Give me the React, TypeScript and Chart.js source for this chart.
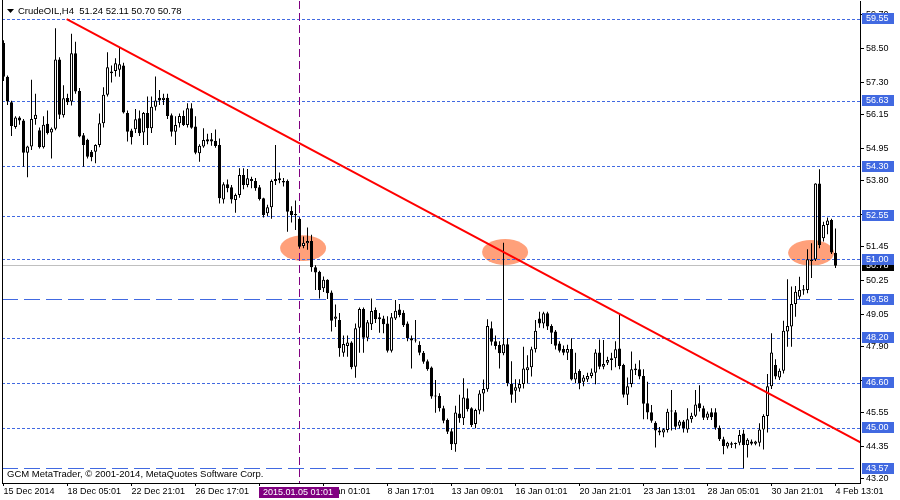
import React, { useEffect, useRef } from "react";
import { Chart, registerables } from "chart.js";

Chart.register(...registerables);

// ---------- data ----------
const opens = [
  58.70,57.50,56.60,55.72,56.05,55.95,54.80,55.02,56.00,55.60,
  55.00,55.83,55.52,55.65,58.12,56.13,56.75,56.62,58.34,57.00,
  55.42,55.26,54.84,54.84,55.08,55.85,56.86,57.63,57.71,57.75,
  57.90,56.21,55.59,55.64,56.03,55.52,56.21,55.67,56.44,56.76,
  56.68,56.76,56.13,55.55,55.85,56.11,55.79,56.38,55.73,54.78,
  55.02,55.28,55.28,55.23,55.08,53.14,53.68,53.57,53.12,53.30,
  54.01,53.65,53.87,53.80,53.57,53.18,52.65,52.86,53.80,53.82,
  53.80,53.80,52.73,52.62,52.45,51.48,51.58,51.66,50.73,50.57,
  49.98,50.28,49.83,48.90,48.85,47.69,47.93,48.05,47.19,48.58,
  49.24,48.22,48.70,49.21,48.88,48.91,48.73,47.76,48.91,49.23,
  49.11,48.73,48.20,48.15,47.96,47.69,47.39,47.16,46.15,46.15,
  45.71,45.30,44.90,44.43,45.53,45.36,46.07,45.71,45.15,45.63,
  46.24,46.39,48.56,48.10,47.96,47.67,47.99,46.58,46.34,46.42,
  46.58,47.07,47.17,47.81,48.91,48.73,49.09,48.64,48.44,48.02,
  47.82,47.69,47.82,46.74,47.04,46.66,46.74,46.86,46.98,47.70,
  47.19,47.33,47.43,47.49,47.84,47.25,46.19,46.58,47.13,47.10,
  46.86,45.89,45.57,45.20,44.92,44.85,44.94,45.63,45.57,45.09,
  45.24,44.96,45.32,45.45,45.89,45.71,45.38,45.57,45.57,45.02,
  44.61,44.35,44.47,44.45,44.49,44.82,44.41,44.53,44.45,44.49,
  44.96,45.44,46.50,47.25,46.81,47.05,48.44,48.62,49.42,49.68,
  49.95,49.92,50.95,51.00,53.71,51.76,52.23,52.41,51.24,
];
const highs = [
  58.80,57.55,56.65,56.10,56.10,56.00,55.05,57.40,56.90,55.70,
  56.10,56.30,55.70,59.23,58.20,57.20,56.90,59.03,58.75,57.10,
  55.50,55.30,54.90,55.10,56.20,57.13,58.37,57.90,58.16,58.55,
  58.00,56.30,55.65,56.36,56.30,56.25,56.80,56.80,57.51,57.03,
  56.90,56.90,56.20,56.10,56.20,56.30,56.56,56.56,56.10,55.10,
  55.67,55.48,55.50,55.63,55.31,53.75,53.85,53.65,53.35,54.25,
  54.25,54.22,53.95,53.90,53.65,53.20,52.95,53.85,55.08,54.10,
  53.90,53.85,52.90,53.10,52.50,51.82,52.14,51.88,50.80,50.60,
  50.40,50.30,49.90,49.40,49.10,48.30,48.30,48.10,48.73,49.30,
  49.30,48.85,49.62,49.30,49.10,49.00,48.99,49.10,49.56,49.42,
  49.20,48.80,48.30,48.85,48.10,47.75,47.45,47.20,46.72,46.25,
  45.80,45.35,45.00,45.80,46.19,46.78,46.42,45.75,45.70,46.35,
  46.74,48.88,48.80,48.30,48.10,51.60,48.20,47.39,46.75,46.75,
  47.90,47.60,47.90,48.85,49.15,49.15,49.15,48.70,48.50,48.10,
  47.95,47.97,48.20,47.69,47.10,46.90,46.98,47.13,47.81,48.16,
  48.14,47.55,47.69,48.10,49.06,47.30,46.81,47.73,47.30,47.42,
  47.10,46.66,45.83,45.25,45.05,45.00,45.70,46.36,45.65,45.30,
  45.30,45.71,45.55,46.36,46.53,45.80,45.60,45.71,45.71,45.10,
  44.70,44.52,44.52,44.50,44.94,44.95,44.65,44.60,44.56,45.18,
  45.50,46.93,48.38,47.46,47.13,48.83,50.30,50.04,50.06,50.39,
  50.10,51.37,51.58,53.72,54.21,52.35,52.50,52.45,52.11,
];
const lows = [
  57.35,56.50,55.40,55.65,55.80,54.30,53.93,54.90,55.80,54.95,
  54.95,55.45,54.60,55.60,56.00,56.05,56.50,56.48,56.90,55.35,
  54.30,54.60,54.50,54.43,55.00,55.70,56.80,57.30,57.51,57.50,
  56.20,55.20,55.09,55.50,55.40,55.08,55.08,55.50,56.30,56.50,
  56.50,56.00,55.38,55.08,55.70,55.75,55.70,55.65,54.75,54.48,
  54.98,55.10,55.05,54.98,53.00,53.00,53.40,53.00,52.67,53.20,
  53.50,53.57,53.54,53.45,53.10,52.50,52.55,52.45,53.65,53.72,
  53.60,51.99,52.32,52.05,51.40,51.40,51.35,50.57,49.92,49.62,
  49.85,49.60,48.44,48.60,47.55,47.55,47.55,47.10,46.80,47.69,
  47.69,48.10,48.50,48.75,48.40,48.38,47.70,47.70,48.85,48.95,
  48.60,48.10,47.13,48.05,47.60,47.30,47.05,46.05,45.55,45.60,
  45.18,44.80,44.23,44.17,45.20,45.12,45.60,45.05,45.00,45.50,
  45.60,46.30,47.95,47.80,47.13,47.60,46.50,45.91,45.91,46.30,
  46.42,46.60,46.84,47.70,48.58,48.56,48.50,48.00,47.80,47.70,
  47.60,47.43,46.70,46.60,46.39,46.50,46.65,46.78,46.57,47.10,
  47.10,47.25,47.07,47.17,47.10,46.10,45.83,46.46,46.90,46.75,
  45.32,45.32,45.20,44.32,44.75,44.68,44.85,44.92,44.95,44.99,
  44.85,44.84,45.20,45.40,45.60,45.30,45.30,45.30,44.95,44.55,
  44.08,44.28,44.30,44.28,44.40,43.58,43.96,44.40,44.40,44.35,
  44.25,44.85,46.40,46.75,46.72,46.95,47.90,47.90,48.97,49.60,
  49.75,49.80,50.35,50.95,51.40,51.64,51.90,51.20,50.70,
];
const closes = [
  57.50,56.62,55.75,56.05,55.95,54.80,55.02,56.00,56.15,55.00,
  55.80,55.50,55.65,58.12,56.15,56.74,56.60,58.34,56.98,55.38,
  55.08,54.66,54.64,55.08,55.85,56.86,57.84,57.69,57.98,57.95,
  56.23,55.55,55.35,55.99,55.49,56.21,55.67,56.44,56.66,56.66,
  56.76,56.11,55.55,55.79,56.11,55.79,56.38,55.69,54.80,55.05,
  55.25,55.20,55.20,55.04,53.18,53.68,53.54,53.14,53.30,54.01,
  53.65,53.89,53.80,53.54,53.16,52.59,52.86,53.80,53.87,53.89,
  53.74,52.70,52.59,52.58,51.46,51.60,51.66,50.73,50.54,49.92,
  50.28,49.80,48.83,48.98,47.85,48.00,48.05,47.17,48.56,49.24,
  48.22,48.77,49.17,48.88,48.95,48.70,47.76,48.95,49.18,49.03,
  48.67,48.20,48.12,48.12,47.69,47.37,47.10,46.13,46.13,45.71,
  45.27,44.88,44.43,45.56,45.36,46.10,45.68,45.12,45.65,46.24,
  46.40,48.64,48.08,47.93,47.67,47.99,46.60,46.19,46.46,46.58,
  47.13,47.17,47.81,48.47,48.73,49.09,48.62,48.40,47.94,47.76,
  47.69,47.82,46.74,46.98,46.60,46.81,46.86,46.99,47.70,47.19,
  47.29,47.43,47.49,47.81,47.22,46.19,46.50,47.10,47.07,46.84,
  45.87,45.56,45.27,44.92,44.85,44.97,45.59,45.60,45.06,45.24,
  45.00,45.32,45.45,45.85,45.71,45.38,45.53,45.39,45.02,44.61,
  44.37,44.49,44.42,44.44,44.76,44.41,44.59,44.45,44.53,44.96,
  45.44,46.50,47.70,46.84,47.05,48.47,48.64,49.42,49.86,49.92,
  49.90,51.01,51.00,53.71,51.52,52.23,52.39,51.25,50.78,
];

const timeLabels = [
  "15 Dec 2014", "18 Dec 05:01", "22 Dec 21:01", "26 Dec 17:01", "31 Dec 09:01",
  "6 Jan 01:01", "8 Jan 17:01", "13 Jan 09:01", "16 Jan 01:01", "20 Jan 21:01",
  "23 Jan 13:01", "28 Jan 05:01", "30 Jan 21:01", "4 Feb 13:01",
];
const timeLabelStep = 16;

const priceTicks = [43.20, 44.35, 45.55, 46.70, 47.90, 49.05, 50.25, 51.45, 52.60, 53.80, 54.95, 56.15, 57.30, 58.50, 59.70];
const priceMin = 43.056;
const priceMax = 60.197;
const barMin = -0.375;
const barMax = 214.125;

const dottedLevels = [59.55, 56.63, 54.30, 52.55, 51.00, 48.20, 46.60, 45.00];
const dashedLevels = [49.58, 43.57];
const bidPrice = 50.78;

const trendBars = [15.8, 214.3];
const trendPrices = [59.55, 44.5];

const ellipseBars = [74.9, 125.4, 201.9];
const ellipsePrices = [51.41, 51.27, 51.24];
const ellipseBarRadius = 5.75;
const ellipsePriceRadius = 0.46;

const markerBar = 74;
const markerLabel = "2015.01.05 01:01";
const symbolTitle = "CrudeOIL,H4  51.24 52.11 50.70 50.78";
const copyrightText = "GCM MetaTrader, \u00A9 2001-2014, MetaQuotes Software Corp.";

const FONT = "Tahoma, 'Liberation Sans', Arial, sans-serif";
const FONT_SIZE = 9;
const TEXT_SIZE = 9.5;
const BLUE = "#4169E1";
const PURPLE = "#800080";

const overlay = {
  id: "mtOverlay",
  beforeDatasetsDraw(chart: any) {
    const { ctx, chartArea: a, scales } = chart;
    const x = scales.x, y = scales.y;
    ctx.save();
    ctx.beginPath();
    ctx.rect(a.left, a.top, a.right - a.left, a.bottom - a.top);
    ctx.clip();
    ctx.fillStyle = "#FFA07A";
    for (let k = 0; k < ellipseBars.length; k++) {
      const cx = x.getPixelForValue(ellipseBars[k]);
      const cy = y.getPixelForValue(ellipsePrices[k]);
      const rx = x.getPixelForValue(ellipseBars[k] + ellipseBarRadius) - cx;
      const ry = cy - y.getPixelForValue(ellipsePrices[k] + ellipsePriceRadius);
      ctx.beginPath();
      ctx.ellipse(cx, cy, rx, ry, 0, 0, Math.PI * 2);
      ctx.fill();
    }
    ctx.lineWidth = 1;
    const hline = (p: number) => {
      const py = Math.floor(y.getPixelForValue(p)) + 0.5;
      ctx.beginPath();
      ctx.moveTo(a.left, py);
      ctx.lineTo(a.right, py);
      ctx.stroke();
    };
    ctx.strokeStyle = "#C0C0C0";
    ctx.setLineDash([]);
    hline(bidPrice);
    ctx.strokeStyle = BLUE;
    ctx.setLineDash([3, 2]);
    dottedLevels.forEach(hline);
    ctx.setLineDash([16, 6]);
    dashedLevels.forEach(hline);
    const mx = Math.floor(x.getPixelForValue(markerBar)) + 0.5;
    ctx.strokeStyle = PURPLE;
    ctx.setLineDash([8, 4]);
    ctx.beginPath();
    ctx.moveTo(mx, a.top);
    ctx.lineTo(mx, a.bottom);
    ctx.stroke();
    ctx.restore();
  },
  afterDraw(chart: any) {
    const { ctx, chartArea: a, scales } = chart;
    const x = scales.x, y = scales.y;
    ctx.save();
    ctx.strokeStyle = "#000";
    ctx.lineWidth = 1;
    ctx.beginPath();
    ctx.moveTo(a.left + 0.5, 0);
    ctx.lineTo(a.left + 0.5, a.bottom);
    ctx.stroke();
    ctx.font = `${FONT_SIZE}px ${FONT}`;
    ctx.textBaseline = "middle";
    ctx.textAlign = "left";
    const priceBox = (p: number, bg: string) => {
      const cy = Math.round(y.getPixelForValue(p));
      ctx.fillStyle = bg;
      ctx.fillRect(a.right + 2, cy - 6, 32, 11);
      ctx.fillStyle = "#fff";
      ctx.fillText(p.toFixed(2), a.right + 6, cy - 0.5);
    };
    priceBox(bidPrice, "#000");
    [...dottedLevels, ...dashedLevels].forEach((p) => priceBox(p, BLUE));
    const mx = Math.floor(x.getPixelForValue(markerBar));
    ctx.fillStyle = PURPLE;
    ctx.fillRect(mx - 40, a.bottom + 4, 80, 11);
    ctx.fillStyle = "#fff";
    ctx.fillText(markerLabel, mx - 36, a.bottom + 9.5);
    ctx.fillStyle = "#000";
    ctx.beginPath();
    ctx.moveTo(7, 9);
    ctx.lineTo(14, 9);
    ctx.lineTo(10.5, 13);
    ctx.closePath();
    ctx.fill();
    ctx.font = `${TEXT_SIZE}px ${FONT}`;
    ctx.fillText(symbolTitle, 18, 11);
    ctx.fillText(copyrightText, 7, 474);
    ctx.restore();
  },
};

export default function App() {
  const ref = useRef<HTMLCanvasElement | null>(null);
  useEffect(() => {
    if (!ref.current) return;
    Chart.defaults.font.family = FONT;
    Chart.defaults.font.size = FONT_SIZE;
    Chart.defaults.color = "#000";
    const idx = opens.map((_, i) => i);
    const wicks = idx.map((i) => ({
      x: i,
      y: [Math.min(lows[i], opens[i], closes[i]), Math.max(highs[i], opens[i], closes[i])],
    }));
    const bodies = idx.map((i) => ({ x: i, y: [opens[i], closes[i]] }));
    const bodyColors = idx.map((i) => (closes[i] >= opens[i] ? "#ffffff" : "#000000"));
    const chart = new Chart(ref.current, {
      type: "bar",
      data: {
        datasets: [
          {
            type: "line",
            data: trendBars.map((b, k) => ({ x: b, y: trendPrices[k] })),
            borderColor: "#FF0000",
            borderWidth: 2,
            pointRadius: 0,
            order: 0,
          } as any,
          {
            data: bodies as any,
            backgroundColor: bodyColors,
            borderColor: "#000",
            borderWidth: 1,
            borderSkipped: false,
            barThickness: 3,
            minBarLength: 1,
            grouped: false,
            inflateAmount: 0,
            order: 1,
          } as any,
          {
            data: wicks as any,
            backgroundColor: "#000",
            borderWidth: 0,
            barThickness: 1,
            grouped: false,
            inflateAmount: 0,
            order: 2,
          } as any,
        ],
      },
      options: {
        responsive: false,
        animation: false,
        events: [],
        layout: { padding: { left: 2, top: 1, right: 0, bottom: 0 } },
        plugins: { legend: { display: false }, tooltip: { enabled: false } },
        scales: {
          x: {
            type: "linear",
            min: barMin,
            max: barMax,
            bounds: "data",
            offset: false,
            grid: { display: true, drawOnChartArea: false, drawTicks: true, tickLength: 3, color: "#000", offset: false },
            border: { display: true, color: "#000" },
            ticks: {
              autoSkip: false,
              maxRotation: 0,
              minRotation: 0,
              align: "start",
              padding: 0,
              font: { size: FONT_SIZE, lineHeight: 1.2 },
              color: "#000",
              callback: (v: any) => timeLabels[Math.round(Number(v) / timeLabelStep)] ?? "",
            },
            afterBuildTicks: (s: any) => {
              s.ticks = timeLabels.map((_, k) => ({ value: k * timeLabelStep }));
            },
            afterFit: (s: any) => {
              s.height = 17;
              s.paddingLeft = 0;
              s.paddingRight = 0;
            },
          },
          y: {
            type: "linear",
            position: "right",
            min: priceMin,
            max: priceMax,
            bounds: "data",
            grid: { display: true, drawOnChartArea: false, drawTicks: true, tickLength: 4, color: "#000" },
            border: { display: true, color: "#000" },
            ticks: {
              padding: 2,
              font: { size: FONT_SIZE, lineHeight: 1 },
              color: "#000",
              callback: (v: any) => Number(v).toFixed(2),
            },
            afterBuildTicks: (s: any) => {
              s.ticks = priceTicks.map((v) => ({ value: v }));
            },
            afterFit: (s: any) => {
              s.width = 40;
              s.paddingTop = 0;
              s.paddingBottom = 0;
            },
          },
        },
      } as any,
      plugins: [overlay],
    });
    return () => chart.destroy();
  }, []);
  return (
    <div style={{ position: "absolute", left: 0, top: 0, width: 900, height: 500, background: "#fff" }}>
      <canvas ref={ref} width={900} height={500} />
    </div>
  );
}
